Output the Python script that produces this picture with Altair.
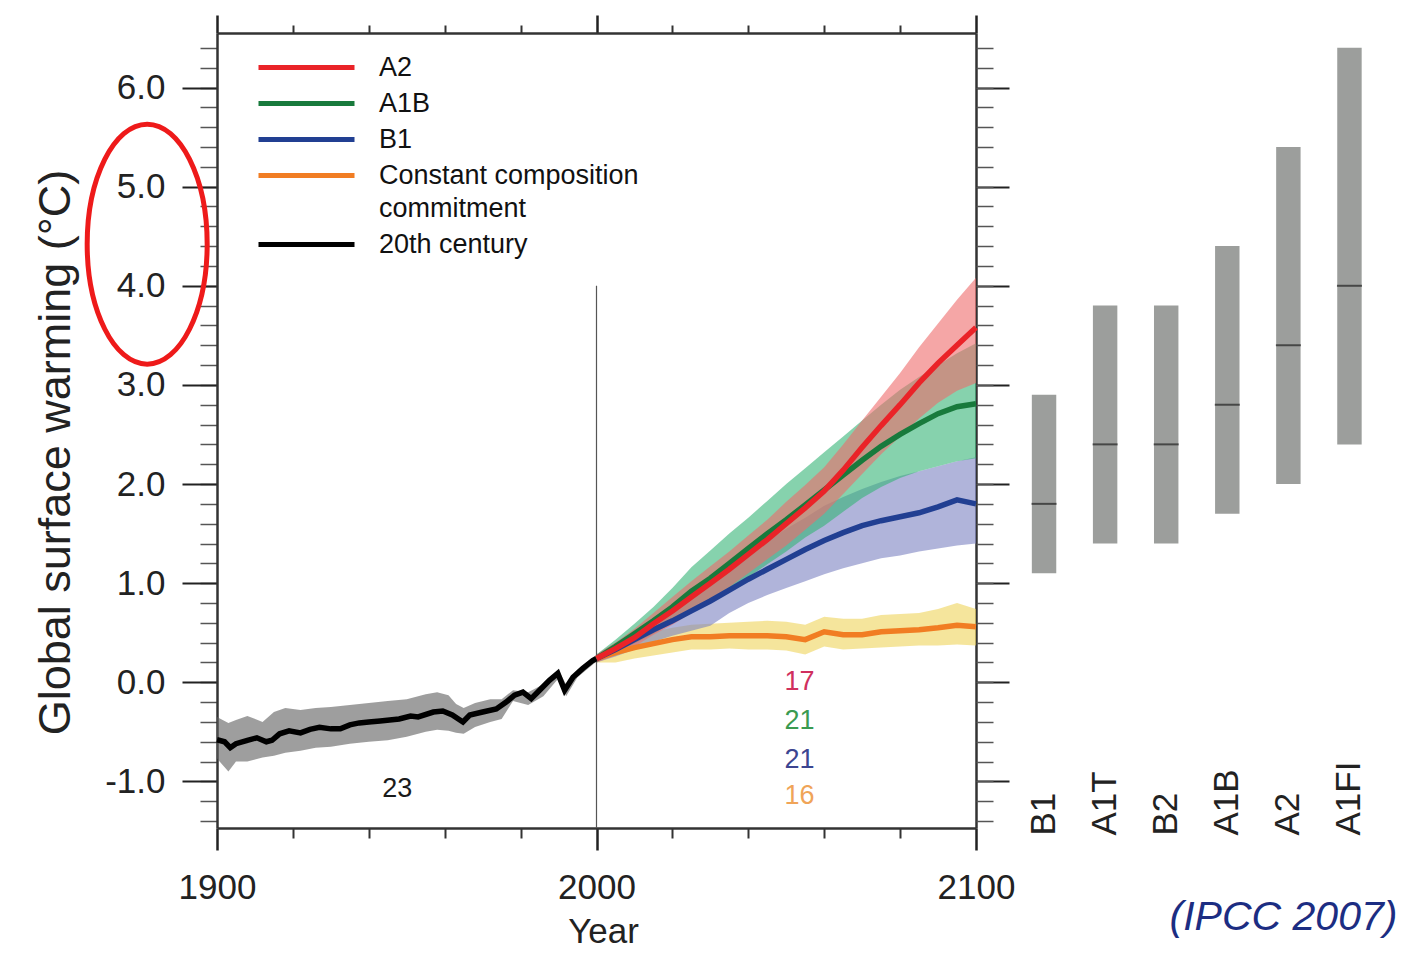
import altair as alt
import pandas as pd

FONT = "Liberation Sans"

# ---------------- data ----------------
# 20th century multi-model mean
C20_YEARS = [1900, 1902, 1903.5, 1905, 1908, 1910.5, 1913, 1914.5, 1916.5, 1919, 1922, 1924.5,
             1927, 1930, 1932.5, 1935, 1937.5, 1940, 1943, 1945.5, 1948, 1951, 1953, 1957,
             1959.5, 1962, 1964.8, 1966.6, 1970, 1973.6, 1976.2, 1978.4, 1980.6, 1982.8, 1985,
             1987.6, 1989.8, 1991.6, 1993.8, 1996.4, 1999, 2000]
C20_MEAN = [-0.58, -0.60, -0.66, -0.62, -0.585, -0.56, -0.60, -0.585, -0.52, -0.49, -0.51, -0.475,
            -0.455, -0.47, -0.47, -0.43, -0.41, -0.40, -0.39, -0.38, -0.37, -0.34, -0.35, -0.30,
            -0.29, -0.33, -0.40, -0.33, -0.30, -0.27, -0.20, -0.13, -0.10, -0.165, -0.08,
            0.02, 0.09, -0.08, 0.05, 0.14, 0.22, 0.24]
# 20th century spread
C20B_YEARS = [1900, 1903, 1905, 1908, 1912, 1915, 1918, 1922, 1926, 1930, 1935, 1940, 1945, 1950,
              1955, 1958, 1961, 1963, 1965, 1968, 1972, 1975, 1978, 1982, 1986, 1990, 1992, 1995, 2000]
C20B_HI = [-0.35, -0.41, -0.38, -0.34, -0.40, -0.30, -0.26, -0.28, -0.26, -0.25, -0.23, -0.21, -0.19,
           -0.17, -0.12, -0.10, -0.13, -0.22, -0.26, -0.21, -0.17, -0.17, -0.08, -0.10, -0.02,
           0.12, -0.02, 0.13, 0.27]
C20B_LO = [-0.77, -0.90, -0.80, -0.80, -0.76, -0.74, -0.71, -0.69, -0.66, -0.65, -0.62, -0.60, -0.585,
           -0.55, -0.50, -0.48, -0.49, -0.51, -0.52, -0.45, -0.40, -0.37, -0.19, -0.23, -0.14,
           0.04, -0.14, 0.05, 0.21]

# 21st century scenarios
SC_YEARS = [2000, 2005, 2010, 2015, 2020, 2025, 2030, 2035, 2040, 2045, 2050,
            2055, 2060, 2065, 2070, 2075, 2080, 2085, 2090, 2095, 2100]
A2_MEAN = [0.24, 0.34, 0.45, 0.59, 0.72, 0.86, 1.00, 1.14, 1.29, 1.44, 1.60,
           1.76, 1.93, 2.14, 2.37, 2.59, 2.80, 3.02, 3.22, 3.40, 3.58]
A2_LO = [0.20, 0.27, 0.36, 0.48, 0.58, 0.70, 0.84, 0.96, 1.10, 1.24, 1.38,
         1.54, 1.70, 1.90, 2.10, 2.30, 2.48, 2.66, 2.82, 2.94, 3.02]
A2_HI = [0.28, 0.40, 0.54, 0.70, 0.86, 1.02, 1.17, 1.32, 1.48, 1.64, 1.82,
         1.99, 2.17, 2.40, 2.64, 2.88, 3.12, 3.38, 3.62, 3.86, 4.08]
A1B_MEAN = [0.24, 0.36, 0.49, 0.62, 0.76, 0.92, 1.05, 1.20, 1.35, 1.50, 1.64,
            1.79, 1.94, 2.09, 2.24, 2.38, 2.50, 2.61, 2.71, 2.78, 2.81]
A1B_LO = [0.20, 0.29, 0.39, 0.49, 0.60, 0.72, 0.82, 0.94, 1.06, 1.19, 1.32,
          1.46, 1.58, 1.72, 1.86, 1.97, 2.06, 2.13, 2.18, 2.23, 2.26]
A1B_HI = [0.28, 0.43, 0.59, 0.76, 0.95, 1.16, 1.33, 1.50, 1.66, 1.83, 2.00,
          2.16, 2.32, 2.48, 2.64, 2.80, 2.95, 3.08, 3.20, 3.32, 3.42]
B1_MEAN = [0.24, 0.33, 0.43, 0.53, 0.62, 0.72, 0.82, 0.93, 1.04, 1.14, 1.24,
           1.34, 1.43, 1.51, 1.58, 1.63, 1.67, 1.71, 1.77, 1.84, 1.80]
B1_LO = [0.20, 0.26, 0.33, 0.41, 0.47, 0.52, 0.57, 0.70, 0.80, 0.88, 0.95,
         1.02, 1.09, 1.15, 1.20, 1.25, 1.28, 1.32, 1.35, 1.38, 1.40]
B1_HI = [0.28, 0.40, 0.53, 0.65, 0.78, 0.92, 1.06, 1.18, 1.30, 1.42, 1.55,
         1.66, 1.78, 1.87, 1.95, 2.02, 2.08, 2.13, 2.18, 2.23, 2.27]
CC_MEAN = [0.24, 0.30, 0.35, 0.39, 0.43, 0.46, 0.46, 0.47, 0.47, 0.47, 0.46,
           0.43, 0.51, 0.48, 0.48, 0.51, 0.52, 0.53, 0.55, 0.575, 0.56]
CC_LO = [0.20, 0.20, 0.24, 0.27, 0.30, 0.33, 0.33, 0.34, 0.33, 0.33, 0.32,
         0.28, 0.36, 0.33, 0.34, 0.35, 0.36, 0.37, 0.37, 0.38, 0.37]
CC_HI = [0.28, 0.40, 0.46, 0.51, 0.55, 0.58, 0.59, 0.60, 0.61, 0.62, 0.61,
         0.58, 0.66, 0.64, 0.64, 0.68, 0.69, 0.70, 0.74, 0.80, 0.74]

# likely ranges at 2100 (right-hand bars)
BAR_SCEN = ["B1", "A1T", "B2", "A1B", "A2", "A1FI"]
BAR_LOW = [1.1, 1.4, 1.4, 1.7, 2.0, 2.4]
BAR_HIGH = [2.9, 3.8, 3.8, 4.4, 5.4, 6.4]
BAR_BEST = [1.8, 2.4, 2.4, 2.8, 3.4, 4.0]

# model counts
ANN_TEXT = ["23", "17", "21", "21", "16"]
ANN_YEAR = [1947.5, 2053.5, 2053.5, 2053.5, 2053.5]
ANN_VAL = [-1.08, 0.0, -0.39, -0.78, -1.15]
ANN_COLOR = ["#1a1a1a", "#d0305e", "#3a9a50", "#3c4590", "#f0a458"]

# vertical marker at year 2000
RULE_YEAR = [2000]
RULE_TOP = [4.0]
RULE_BOTTOM = [-1.47]

# red highlight ellipse (slide annotation)
ELL_YEAR = [1881.6]
ELL_VAL = [4.42]

SERIES = ["A2", "A1B", "B1", "Constant composition commitment", "20th century"]
LINE_COLORS = ["#ea2328", "#187a3c", "#213f92", "#f17d23", "#000000"]
BAND_SERIES = ["20th century", "Constant composition commitment", "B1", "A1B", "A2"]
BAND_COLORS = ["#5e5e5e", "#efd35a", "#7c82c2", "#36b477", "#ef6b6b"]

Y_MAJOR = [-1, 0, 1, 2, 3, 4, 5, 6]
Y_MINOR = [-1.4, -1.2, -1.0, -0.8, -0.6, -0.4, -0.2, 0.0, 0.2, 0.4, 0.6, 0.8, 1.0, 1.2, 1.4,
           1.6, 1.8, 2.0, 2.2, 2.4, 2.6, 2.8, 3.0, 3.2, 3.4, 3.6, 3.8, 4.0, 4.2, 4.4, 4.6,
           4.8, 5.0, 5.2, 5.4, 5.6, 5.8, 6.0, 6.2, 6.4]
X_MAJOR = [1900, 2000, 2100]
X_MINOR = [1920, 1940, 1960, 1980, 2020, 2040, 2060, 2080]

# ---------------- tables ----------------
lines_rows = []
for y, v in zip(C20_YEARS, C20_MEAN):
    lines_rows.append({"series": "20th century", "year": y, "value": v})
for name, mean in [("Constant composition commitment", CC_MEAN), ("B1", B1_MEAN),
                   ("A1B", A1B_MEAN), ("A2", A2_MEAN)]:
    for y, v in zip(SC_YEARS, mean):
        lines_rows.append({"series": name, "year": y, "value": v})
lines_df = pd.DataFrame(lines_rows)

band_rows = []
for y, lo, hi in zip(C20B_YEARS, C20B_LO, C20B_HI):
    band_rows.append({"band": "20th century", "year": y, "lo": lo, "hi": hi})
for name, lo_l, hi_l in [("Constant composition commitment", CC_LO, CC_HI), ("B1", B1_LO, B1_HI),
                         ("A1B", A1B_LO, A1B_HI), ("A2", A2_LO, A2_HI)]:
    for y, lo, hi in zip(SC_YEARS, lo_l, hi_l):
        band_rows.append({"band": name, "year": y, "lo": lo, "hi": hi})
band_df = pd.DataFrame(band_rows)

bars_df = pd.DataFrame({"scenario": BAR_SCEN, "low": BAR_LOW, "high": BAR_HIGH, "best": BAR_BEST})
rule_df = pd.DataFrame({"year": RULE_YEAR, "top": RULE_TOP, "bottom": RULE_BOTTOM})
ell_df = pd.DataFrame({"year": ELL_YEAR, "value": ELL_VAL})


def xs():
    return alt.Scale(domain=[1900, 2100], nice=False, zero=False)


def ys():
    return alt.Scale(domain=[-1.47, 6.55], nice=False, zero=False)


def bar_scale():
    return alt.Scale(domain=BAR_SCEN, range=[796.5, 1163], paddingInner=0.6, paddingOuter=0.3)


# ---------------- axes ----------------
y_left_major = alt.Axis(orient="left", values=Y_MAJOR, format=".1f",
                        labelExpr="replace(datum.label, '\u2212', '-')",
                        tickSize=35, tickWidth=2,
                        tickColor="#222", domain=True, domainColor="#333", domainWidth=2.5,
                        labelFont=FONT, labelFontSize=35, labelColor="#222", labelPadding=17,
                        labelOverlap=False, grid=False,
                        title="Global surface warming (°C)", titleFont=FONT, titleFontSize=45,
                        titleFontWeight="normal", titleColor="#222", titleX=-162, titleY=419,
                        titleAngle=270, titleAlign="center", titleBaseline="middle", titleLimit=900)
y_left_minor = alt.Axis(orient="left", values=Y_MINOR, tickSize=17, tickWidth=1.5, tickColor="#555",
                        domain=False, labels=False, grid=False, title=None)
y_right_major = alt.Axis(orient="right", values=Y_MAJOR, tickSize=33, tickWidth=2, tickColor="#222",
                         domain=True, domainColor="#333", domainWidth=2.5, labels=False, grid=False,
                         title=None)
y_right_minor = alt.Axis(orient="right", values=Y_MINOR, tickSize=17, tickWidth=1.5, tickColor="#555",
                         domain=False, labels=False, grid=False, title=None)
x_bottom_major = alt.Axis(orient="bottom", values=X_MAJOR, format="d", tickSize=22, tickWidth=2.5,
                          tickColor="#222", domain=True, domainColor="#333", domainWidth=2.5,
                          labelFont=FONT, labelFontSize=35, labelColor="#222", labelPadding=20,
                          labelFlush=False, labelOverlap=False, grid=False,
                          title="Year", titleFont=FONT, titleFontSize=35, titleFontWeight="normal",
                          titleColor="#222", titleX=386, titleY=114, titleBaseline="alphabetic",
                          titleAlign="center")
x_bottom_minor = alt.Axis(orient="bottom", values=X_MINOR, tickSize=10, tickWidth=2, tickColor="#333",
                          domain=False, labels=False, grid=False, title=None)
x_top_major = alt.Axis(orient="top", values=X_MAJOR, tickSize=18, tickWidth=2.5, tickColor="#222",
                       domain=True, domainColor="#333", domainWidth=2.5, labels=False, grid=False,
                       title=None)
x_top_minor = alt.Axis(orient="top", values=X_MINOR, tickSize=8, tickWidth=2, tickColor="#333",
                       domain=False, labels=False, grid=False, title=None)
bar_axis = alt.Axis(orient="bottom", domain=False, ticks=False, labelAngle=-90, labelAlign="left",
                    labelBaseline="middle", labelPadding=7, labelFont=FONT, labelFontSize=35,
                    labelColor="#222", labelOverlap=False, grid=False,
                    title="(IPCC 2007)", titleFont=FONT, titleFontSize=41, titleFontStyle="italic",
                    titleFontWeight="normal", titleColor="#1c2d82", titleX=1066, titleY=101,
                    titleAlign="center", titleBaseline="alphabetic", titleLimit=1000)

legend = alt.Legend(orient="none", legendX=75, legendY=20, direction="vertical", title=None,
                    symbolType="M-4,0H4", symbolSize=576, symbolStrokeWidth=5,
                    labelFont=FONT, labelFontSize=27, labelColor="#111", labelOffset=58,
                    labelLimit=600, rowPadding=8, padding=0,
                    labelExpr="datum.label == 'Constant composition commitment' ? "
                              "['Constant composition', 'commitment'] : datum.label")

# ---------------- layers ----------------
bands = alt.Chart(band_df).mark_area(opacity=0.6).encode(
    x=alt.X("year:Q", scale=xs(), axis=x_bottom_minor),
    y=alt.Y("lo:Q", scale=ys(), axis=y_left_minor),
    y2="hi:Q",
    fill=alt.Fill("band:N", scale=alt.Scale(domain=BAND_SERIES, range=BAND_COLORS), legend=None),
)

rule = alt.Chart(rule_df).mark_rule(color="#555", strokeWidth=1.2).encode(
    x=alt.X("year:Q", scale=xs(), axis=x_top_minor),
    y=alt.Y("top:Q", scale=ys(), axis=y_right_major),
    y2="bottom:Q",
)

lines = alt.Chart(lines_df).mark_line(strokeWidth=5.5).encode(
    x=alt.X("year:Q", scale=xs(), axis=x_bottom_major),
    y=alt.Y("value:Q", scale=ys(), axis=y_left_major),
    color=alt.Color("series:N", scale=alt.Scale(domain=SERIES, range=LINE_COLORS), legend=legend),
)

text_layers = []
for i, (t, yr, v, c) in enumerate(zip(ANN_TEXT, ANN_YEAR, ANN_VAL, ANN_COLOR)):
    d = pd.DataFrame({"label": [t], "year": [yr], "value": [v]})
    text_layers.append(
        alt.Chart(d).mark_text(font=FONT, fontSize=27, align="center", baseline="middle",
                               color=c).encode(
            x=alt.X("year:Q", scale=xs(), axis=x_top_major if i == 0 else None),
            y=alt.Y("value:Q", scale=ys(), axis=y_right_minor if i == 0 else None),
            text="label:N",
        )
    )

ellipse = alt.Chart(ell_df).mark_point(
    shape="M-0.5,0A0.5,1 0 1,0 0.5,0A0.5,1 0 1,0 -0.5,0Z", size=57600, filled=False,
    strokeWidth=5, color="#ee1a1a", opacity=1,
).encode(
    x=alt.X("year:Q", scale=xs(), axis=None),
    y=alt.Y("value:Q", scale=ys(), axis=None),
)

bars = alt.Chart(bars_df).mark_bar(color="#9c9e9c").encode(
    x=alt.X("scenario:N", scale=bar_scale(), axis=bar_axis),
    y=alt.Y("low:Q", scale=ys(), axis=None),
    y2="high:Q",
)

medians = alt.Chart(bars_df).mark_tick(color="#222", thickness=2, size=25).encode(
    x=alt.X("scenario:N", scale=bar_scale(), axis=None),
    y=alt.Y("best:Q", scale=ys(), axis=None),
)

chart = alt.layer(bands, rule, lines, *text_layers, ellipse, bars, medians).resolve_scale(
    x="independent"
).resolve_axis(
    x="independent", y="independent"
).properties(
    width=759, height=795,
    autosize=alt.AutoSizeParams(type="none"),
    padding={"left": 217, "top": 33, "right": 444, "bottom": 125},
    background="white",
).configure(
    style={"guide-label": {"lineHeight": 33}},
    view=alt.ViewConfig(stroke="transparent"),
)

chart.save("out.html", embed_options={"renderer": "svg", "actions": False})
